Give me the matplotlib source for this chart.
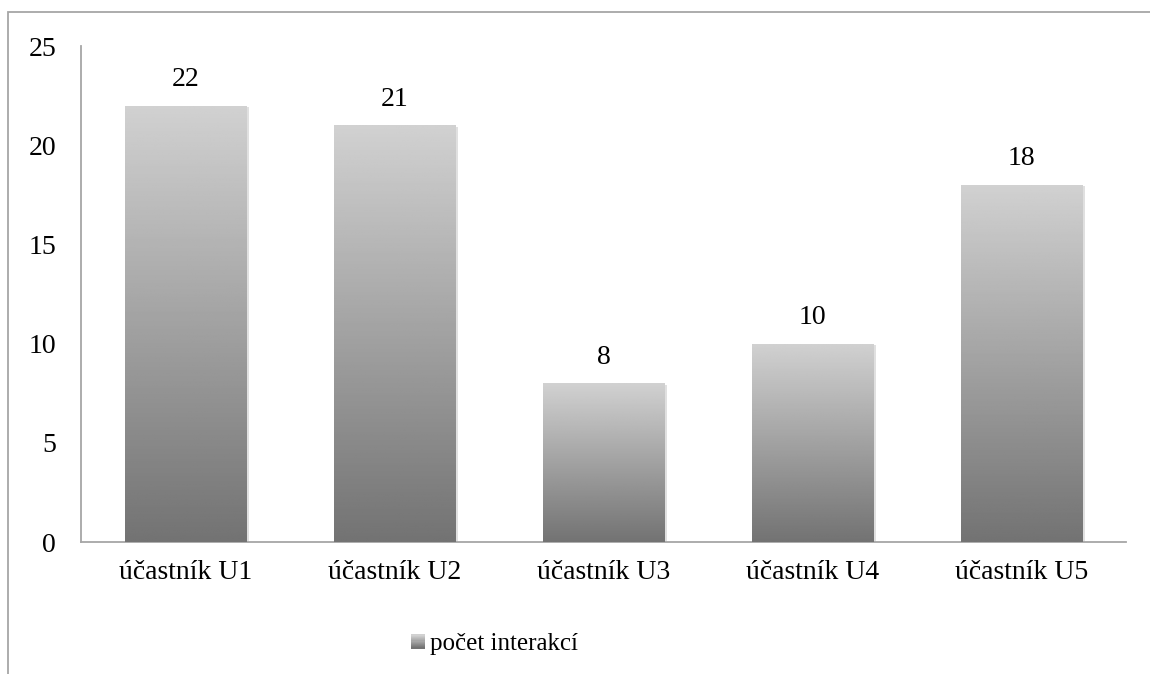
import numpy as np
import matplotlib
matplotlib.use("Agg")
import matplotlib.pyplot as plt
from matplotlib.patches import Rectangle
from matplotlib.legend_handler import HandlerBase
from matplotlib import patheffects as pe

categories = ["účastník U1", "účastník U2", "účastník U3", "účastník U4", "účastník U5"]
values = [22, 21, 8, 10, 18]
series_name = "počet interakcí"
y_ticks = [0, 5, 10, 15, 20, 25]

TOP_GRAY = 0.82
BOTTOM_GRAY = 0.45

plt.rcParams["font.family"] = ["Liberation Serif", "DejaVu Serif"]

fig = plt.figure(figsize=(11.5, 6.74), dpi=100)
W, H = 1150, 674

# outer chart frame (only left and top edges fall inside the canvas)
fig.patches.append(Rectangle((8 / W, -0.1), 1.2, 1 - 12 / H + 0.1,
                             transform=fig.transFigure, fill=False,
                             edgecolor="#a6a6a6", linewidth=1.3))

ax = fig.add_axes([81 / W, 1 - 542 / H, (1126 - 81) / W, (542 - 46) / H])
x = np.arange(len(categories))
bars = ax.bar(x, values, width=0.58, color="#a0a0a0", zorder=2,
              path_effects=[pe.SimplePatchShadow(offset=(2, -1), shadow_rgbFace="#000000", alpha=0.12),
                            pe.Normal()])

grad = np.linspace(BOTTOM_GRAY, TOP_GRAY, 256).reshape(-1, 1)
for b in bars:
    x0, y0 = b.get_x(), b.get_y()
    im = ax.imshow(grad, cmap="gray", vmin=0, vmax=1, origin="lower", aspect="auto",
                   extent=(x0, x0 + b.get_width(), y0, y0 + b.get_height()), zorder=3)
    im.set_clip_path(b)

for xi, v in zip(x, values):
    ax.annotate(str(v), (xi, v), xytext=(0, 14), textcoords="offset points",
                ha="center", va="baseline", fontsize=20, color="black")

ax.set_xlim(-0.5, len(categories) - 0.5)
ax.set_ylim(0, 25)
ax.set_yticks(y_ticks)
ax.set_xticks(x)
ax.set_xticklabels(categories)
ax.tick_params(axis="both", length=0, labelsize=20, colors="black")
ax.tick_params(axis="y", pad=18)
ax.tick_params(axis="x", pad=13)
for side in ("top", "right"):
    ax.spines[side].set_visible(False)
for side in ("left", "bottom"):
    ax.spines[side].set_color("#a6a6a6")
    ax.spines[side].set_linewidth(1.3)
ax.set_facecolor("none")


class GradientSquare(HandlerBase):
    def create_artists(self, legend, orig_handle, xdescent, ydescent, width, height, fontsize, trans):
        n = 12
        side = height * 0.8
        x0 = -xdescent + width - side
        y0 = -ydescent + (height - side) / 2
        arts = []
        for i in range(n):
            g = BOTTOM_GRAY + (TOP_GRAY - BOTTOM_GRAY) * i / (n - 1)
            arts.append(Rectangle((x0, y0 + side * i / n), side, side / n + 0.2,
                                  facecolor=(g, g, g), edgecolor="none", transform=trans))
        return arts


leg = fig.legend([bars[0]], [series_name], handler_map={type(bars[0]): GradientSquare()},
                 loc="center", bbox_to_anchor=(495 / W, 1 - 644 / H), frameon=False,
                 fontsize=18, handlelength=0.5, handletextpad=0.2)

fig.savefig("out.png", dpi=100)
